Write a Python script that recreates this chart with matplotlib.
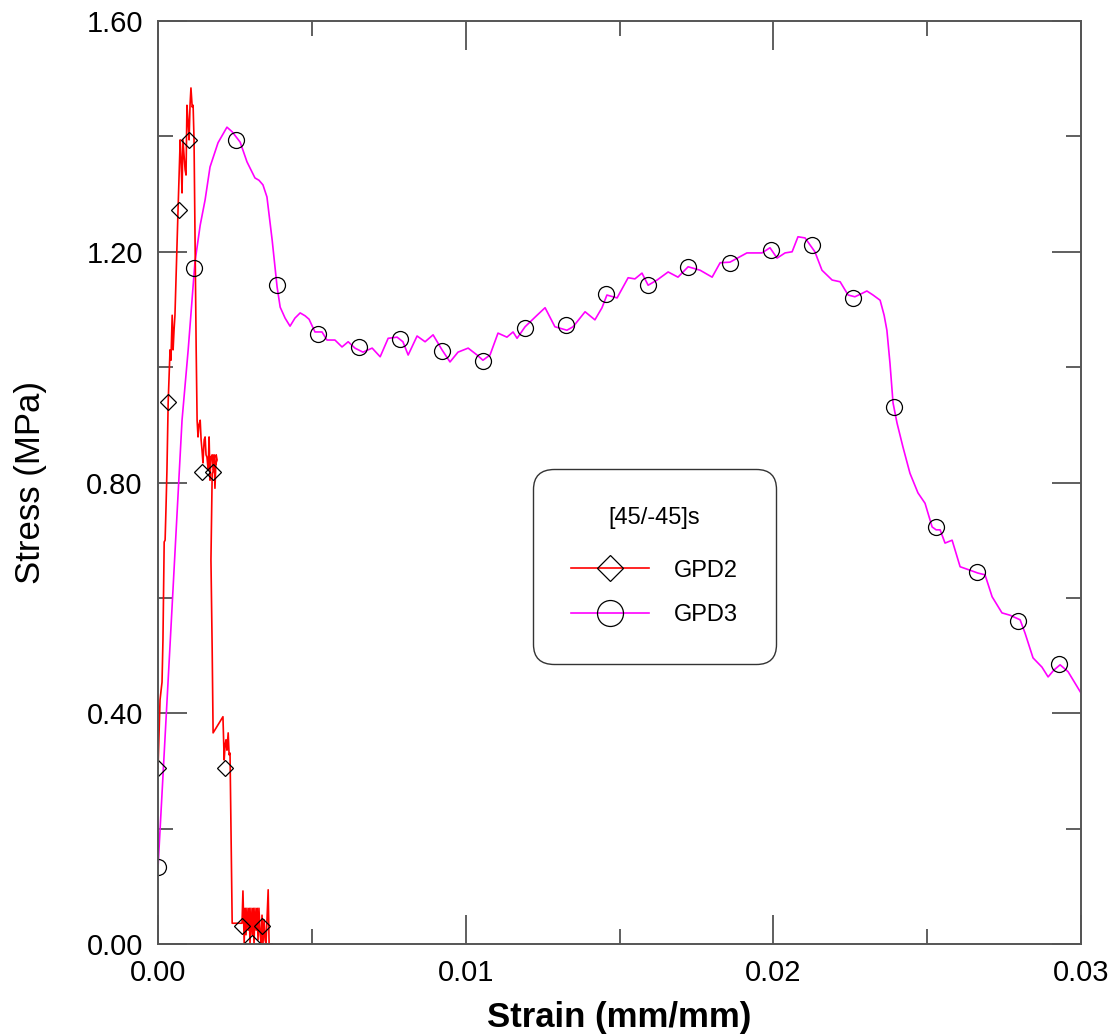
import matplotlib.pyplot as plt
from matplotlib.lines import Line2D
from matplotlib.ticker import MultipleLocator, FormatStrFormatter

plt.rcParams['font.family'] = ['Liberation Sans', 'DejaVu Sans']

# GPD2 curve (strain mm/mm, stress MPa)
gpd2_strain = [0.0, 0.000065, 0.0001, 0.00013, 0.00016, 0.0002, 0.00023, 0.00026, 0.00029, 0.00033,
               0.00039, 0.00042, 0.00046, 0.00049, 0.00052, 0.00055, 0.00065, 0.00072, 0.00075, 0.00078,
               0.00081, 0.00088, 0.00091, 0.00094, 0.00098, 0.00101, 0.00104, 0.00107, 0.00111, 0.00114,
               0.00117, 0.00124, 0.00127, 0.0013, 0.00133, 0.00137, 0.0014, 0.00143, 0.00146, 0.0015,
               0.00153, 0.00156, 0.00159, 0.00163, 0.00166, 0.00169, 0.00172, 0.00176, 0.00179, 0.00182,
               0.00185, 0.00189, 0.00192, 0.00176, 0.00172, 0.00176, 0.00179, 0.00211, 0.00215, 0.00218,
               0.00221, 0.00224, 0.00228, 0.00231, 0.00234, 0.00241, 0.00273, 0.00276, 0.0028, 0.00283,
               0.00286, 0.00289, 0.00293, 0.00296, 0.00299, 0.00302, 0.00306, 0.00309, 0.00312, 0.00315,
               0.00319, 0.00322, 0.00325, 0.00328, 0.00332, 0.00335, 0.00338, 0.00341, 0.00345, 0.00348,
               0.00351, 0.00358, 0.00361, 0.00371]
gpd2_stress = [0.305, 0.423, 0.440, 0.454, 0.527, 0.697, 0.700, 0.758, 0.822, 0.940,
               1.030, 1.012, 1.090, 1.030, 1.064, 1.090, 1.272, 1.394, 1.359, 1.302,
               1.394, 1.342, 1.333, 1.454, 1.423, 1.394, 1.454, 1.484, 1.451, 1.454,
               1.394, 1.030, 0.908, 0.879, 0.900, 0.908, 0.874, 0.856, 0.834, 0.874,
               0.879, 0.848, 0.844, 0.822, 0.879, 0.804, 0.844, 0.848, 0.822, 0.848,
               0.790, 0.848, 0.839, 0.815, 0.666, 0.510, 0.366, 0.394, 0.319, 0.345,
               0.354, 0.336, 0.366, 0.328, 0.331, 0.036, 0.036, 0.092, 0.002, 0.062,
               0.016, 0.062, 0.024, 0.062, 0.0, 0.062, 0.016, 0.062, 0.0, 0.062,
               0.024, 0.062, 0.007, 0.062, 0.016, 0.002, 0.050, 0.0, 0.042, 0.007,
               0.0, 0.094, 0.0, 0.0]
gpd2_mark_strain = [0.0, 0.00033, 0.00068, 0.00101, 0.00143, 0.00179, 0.00218, 0.00273, 0.00306, 0.00338]
gpd2_mark_stress = [0.305, 0.940, 1.272, 1.394, 0.818, 0.818, 0.305, 0.031, 0.002, 0.031]

# GPD3 curve
gpd3_strain = [0.0, 0.00039, 0.00078, 0.00098, 0.00120, 0.00137, 0.00153, 0.00169, 0.00195, 0.00224,
               0.00241, 0.00267, 0.00289, 0.00315, 0.00328, 0.00341, 0.00354, 0.00371, 0.00387, 0.00397,
               0.00413, 0.00429, 0.00445, 0.00462, 0.00478, 0.00491, 0.00510, 0.00533, 0.00549, 0.00575,
               0.00598, 0.00618, 0.00640, 0.00666, 0.00696, 0.00722, 0.00748, 0.00777, 0.00796, 0.00813,
               0.00842, 0.00868, 0.00894, 0.00923, 0.00949, 0.00975, 0.01008, 0.01037, 0.01056, 0.01079,
               0.01105, 0.01134, 0.01154, 0.01167, 0.01193, 0.01232, 0.01258, 0.01290, 0.01329, 0.01349,
               0.01388, 0.01420, 0.01443, 0.01459, 0.01492, 0.01528, 0.01550, 0.01573, 0.01593, 0.01622,
               0.01658, 0.01690, 0.01723, 0.01762, 0.01801, 0.01827, 0.01859, 0.01914, 0.01963, 0.01989,
               0.02012, 0.02038, 0.02061, 0.02080, 0.02103, 0.02135, 0.02158, 0.02191, 0.02217, 0.02243,
               0.02265, 0.02285, 0.02304, 0.02324, 0.02347, 0.02360, 0.02369, 0.02379, 0.02389, 0.02402,
               0.02421, 0.02444, 0.02470, 0.02493, 0.02516, 0.02529, 0.02542, 0.02558, 0.02581, 0.02607,
               0.02639, 0.02665, 0.02688, 0.02711, 0.02743, 0.02769, 0.02802, 0.02818, 0.02844, 0.02873,
               0.02893, 0.02912, 0.02932, 0.02958, 0.03000]
gpd3_stress = [0.133, 0.518, 0.908, 1.030, 1.182, 1.246, 1.290, 1.347, 1.389, 1.416,
               1.408, 1.390, 1.356, 1.328, 1.324, 1.316, 1.295, 1.220, 1.139, 1.104,
               1.085, 1.071, 1.085, 1.094, 1.089, 1.083, 1.061, 1.061, 1.047, 1.047,
               1.035, 1.044, 1.033, 1.026, 1.033, 1.018, 1.050, 1.052, 1.044, 1.021,
               1.054, 1.044, 1.056, 1.030, 1.009, 1.026, 1.033, 1.021, 1.012, 1.021,
               1.059, 1.052, 1.061, 1.050, 1.070, 1.090, 1.103, 1.070, 1.064, 1.070,
               1.096, 1.082, 1.103, 1.125, 1.120, 1.155, 1.153, 1.163, 1.142, 1.151,
               1.165, 1.156, 1.174, 1.168, 1.156, 1.181, 1.182, 1.198, 1.198, 1.207,
               1.189, 1.198, 1.200, 1.226, 1.224, 1.200, 1.168, 1.151, 1.148, 1.125,
               1.122, 1.127, 1.132, 1.125, 1.116, 1.090, 1.064, 1.007, 0.938, 0.903,
               0.862, 0.816, 0.782, 0.764, 0.723, 0.718, 0.718, 0.695, 0.700, 0.654,
               0.648, 0.643, 0.640, 0.602, 0.574, 0.570, 0.562, 0.539, 0.496, 0.480,
               0.463, 0.475, 0.484, 0.472, 0.435]
gpd3_mark_strain = [0.0, 0.00117, 0.00254, 0.00387, 0.00520, 0.00653, 0.00787, 0.00923, 0.01056, 0.01193,
                    0.01326, 0.01456, 0.01593, 0.01723, 0.01859, 0.01992, 0.02126, 0.02259, 0.02392, 0.02529,
                    0.02662, 0.02795, 0.02929]
gpd3_mark_stress = [0.133, 1.172, 1.394, 1.142, 1.057, 1.035, 1.049, 1.028, 1.011, 1.068,
                    1.073, 1.127, 1.142, 1.174, 1.181, 1.203, 1.212, 1.120, 0.931, 0.723,
                    0.645, 0.560, 0.485]

fig = plt.figure(figsize=(11.2, 10.36), dpi=100)
ax = fig.add_axes([0.1411, 0.0888, 0.8241, 0.8909])

ax.plot(gpd3_strain, gpd3_stress, color='#ff00ff', lw=1.2)
ax.plot(gpd2_strain, gpd2_stress, color='#ff0000', lw=1.2)
ax.plot(gpd2_mark_strain, gpd2_mark_stress, ls='none', marker='D', ms=8.0,
        mfc='none', mec='black', mew=0.9)
ax.plot(gpd3_mark_strain, gpd3_mark_stress, ls='none', marker='o', ms=11.5,
        mfc='none', mec='black', mew=0.9)

ax.set_xlim(0, 0.03)
ax.set_ylim(0, 1.6)
ax.xaxis.set_major_locator(MultipleLocator(0.01))
ax.xaxis.set_minor_locator(MultipleLocator(0.005))
ax.yaxis.set_major_locator(MultipleLocator(0.4))
ax.yaxis.set_minor_locator(MultipleLocator(0.2))
ax.xaxis.set_major_formatter(FormatStrFormatter('%.2f'))
ax.yaxis.set_major_formatter(FormatStrFormatter('%.2f'))
ax.tick_params(which='both', direction='in', top=True, right=True, color='#444444', width=1.2)
ax.tick_params(which='major', length=21, labelsize=21)
ax.tick_params(which='minor', length=10.5)
ax.tick_params(axis='x', which='major', pad=11)
ax.tick_params(axis='y', which='major', pad=11)
for s in ax.spines.values():
    s.set_color('#555555')
    s.set_linewidth(1.4)

ax.set_xlabel('Strain (mm/mm)', fontsize=25, fontweight='bold', labelpad=10)
ax.set_ylabel('Stress (MPa)', fontsize=25, labelpad=28)

handles = [
    Line2D([], [], color='#ff0000', lw=1.2, marker='D', ms=13.2, mfc='none', mec='black', mew=0.9),
    Line2D([], [], color='#ff00ff', lw=1.2, marker='o', ms=18.7, mfc='none', mec='black', mew=0.9),
]
leg = ax.legend(handles, ['GPD2', 'GPD3'], title='[45/-45]s', fontsize=17, title_fontsize=17,
                loc='center', bbox_to_anchor=(0.538, 0.409), handlelength=3.3, handletextpad=1.05,
                labelspacing=0.95, borderpad=1.6, frameon=True, fancybox=True)
frame = leg.get_frame()
frame.set_boxstyle('round,pad=0,rounding_size=0.85')
frame.set_edgecolor('#333333')
frame.set_linewidth(1.0)
frame.set_alpha(1)
leg._legend_box.sep = 22

fig.savefig('out.png', dpi=100)
